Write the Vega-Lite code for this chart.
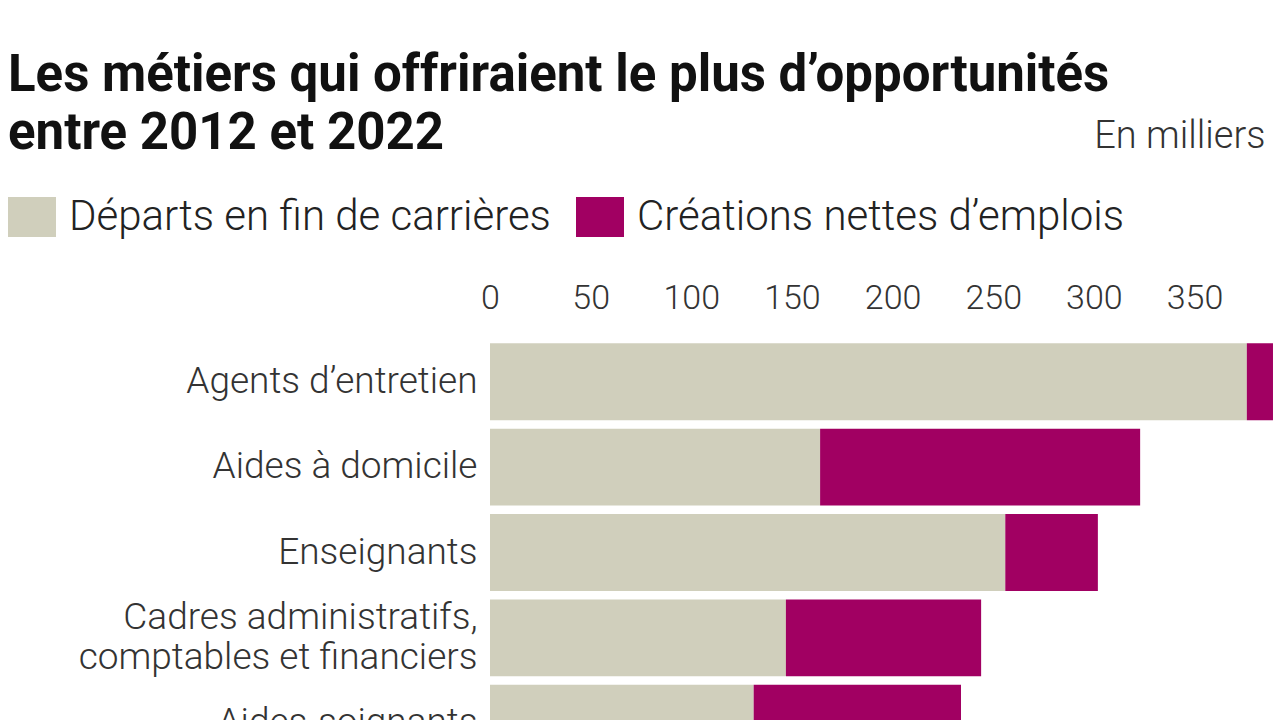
{
  "$schema": "https://vega.github.io/schema/vega-lite/v6.json",
  "autosize": {"type": "none"},
  "width": 785,
  "height": 427,
  "padding": {"left": 490, "top": 339, "right": 5, "bottom": 0},
  "background": "white",
  "title": {
    "text": ["Les métiers qui offriraient le plus d’opportunités", "entre 2012 et 2022"],
    "anchor": "start",
    "frame": "group",
    "dx": -482,
    "dy": 53,
    "font": "Roboto",
    "fontWeight": "bold",
    "fontSize": 51,
    "lineHeight": 58,
    "color": "#111111",
    "baseline": "top",
    "offset": 10
  },
  "data": {
    "values": [
      {"metier": "Agents d’entretien", "type": "Départs en fin de carrières", "valeur": 376},
      {"metier": "Agents d’entretien", "type": "Créations nettes d’emplois", "valeur": 13},
      {"metier": "Aides à domicile", "type": "Départs en fin de carrières", "valeur": 164},
      {"metier": "Aides à domicile", "type": "Créations nettes d’emplois", "valeur": 159},
      {"metier": "Enseignants", "type": "Départs en fin de carrières", "valeur": 256},
      {"metier": "Enseignants", "type": "Créations nettes d’emplois", "valeur": 46},
      {"metier": "Cadres administratifs,|comptables et financiers", "type": "Départs en fin de carrières", "valeur": 147},
      {"metier": "Cadres administratifs,|comptables et financiers", "type": "Créations nettes d’emplois", "valeur": 97},
      {"metier": "Aides-soignants", "type": "Départs en fin de carrières", "valeur": 131},
      {"metier": "Aides-soignants", "type": "Créations nettes d’emplois", "valeur": 103}
    ]
  },
  "mark": {"type": "bar"},
  "encoding": {
    "y": {
      "field": "metier",
      "type": "nominal",
      "sort": null,
      "scale": {"paddingInner": 0.1, "paddingOuter": 0.05},
      "axis": {
        "title": null,
        "domain": false,
        "ticks": false,
        "labelPadding": 13,
        "labelFont": "Roboto",
        "labelFontWeight": 300,
        "labelFontSize": 37,
        "labelColor": "#333333",
        "labelLimit": 480,
        "labelLineHeight": 40,
        "labelOffset": {"condition": {"test": "indexof(datum.label, '|') >= 0", "value": -20}, "value": 0},
        "labelExpr": "split(datum.label, '|')"
      }
    },
    "x": {
      "field": "valeur",
      "type": "quantitative",
      "stack": "zero",
      "scale": {"domain": [0, 390], "nice": false},
      "axis": {
        "orient": "top",
        "values": [0, 50, 100, 150, 200, 250, 300, 350],
        "domain": false,
        "ticks": false,
        "grid": false,
        "labelPadding": 24,
        "labelFont": "Roboto",
        "labelFontWeight": 300,
        "labelFontSize": 34,
        "labelColor": "#333333",
        "labelFlush": false,
        "title": "En milliers",
        "titleFont": "Roboto",
        "titleFontWeight": 300,
        "titleFontSize": 38,
        "titleColor": "#333333",
        "titleAnchor": "end",
        "titleAlign": "right",
        "titleBaseline": "alphabetic",
        "titleX": 775,
        "titleY": -192
      }
    },
    "color": {
      "field": "type",
      "type": "nominal",
      "scale": {
        "domain": ["Départs en fin de carrières", "Créations nettes d’emplois"],
        "range": ["#D0CFBC", "#A10062"]
      },
      "legend": {
        "title": null,
        "orient": "none",
        "direction": "horizontal",
        "legendX": -482,
        "legendY": -146,
        "padding": 0,
        "symbolType": "M-1,-0.83H1V0.83H-1Z",
        "symbolSize": 2304,
        "symbolStrokeWidth": 0,
        "symbolOpacity": 1,
        "labelFont": "Roboto",
        "labelFontWeight": 300,
        "labelFontSize": 42,
        "labelColor": "#222222",
        "labelOffset": 13,
        "labelLimit": 600,
        "columnPadding": 25
      }
    },
    "order": {"field": "type", "sort": "descending"}
  },
  "config": {
    "view": {"stroke": null}
  }
}
